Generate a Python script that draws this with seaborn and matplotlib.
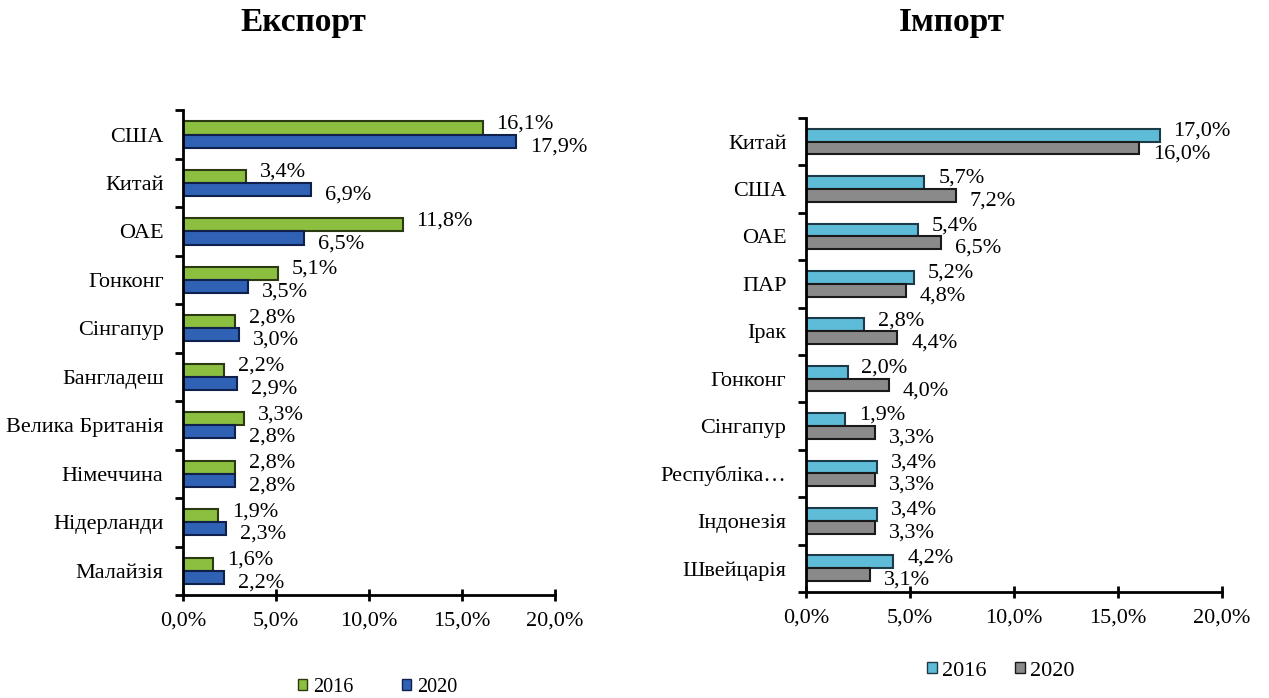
import matplotlib.pyplot as plt
import seaborn as sns
import pandas as pd
from matplotlib.patches import Patch

# Експорт
exp_countries = ['США', 'Китай', 'ОАЕ', 'Гонконг', 'Сінгапур', 'Бангладеш',
                 'Велика Британія', 'Німеччина', 'Нідерланди', 'Малайзія']
exp_2016 = [16.1, 3.4, 11.8, 5.1, 2.8, 2.2, 3.3, 2.8, 1.9, 1.6]
exp_2020 = [17.9, 6.9, 6.5, 3.5, 3.0, 2.9, 2.8, 2.8, 2.3, 2.2]

# Імпорт
imp_countries = ['Китай', 'США', 'ОАЕ', 'ПАР', 'Ірак', 'Гонконг', 'Сінгапур',
                 'Республіка…', 'Індонезія', 'Швейцарія']
imp_2016 = [17.0, 5.7, 5.4, 5.2, 2.8, 2.0, 1.9, 3.4, 3.4, 4.2]
imp_2020 = [16.0, 7.2, 6.5, 4.8, 4.4, 4.0, 3.3, 3.3, 3.3, 3.1]

years = ['2016', '2020']
x_ticks = [0, 5, 10, 15, 20]

sns.set_style('white')
plt.rcParams['font.family'] = ['Liberation Serif', 'DejaVu Serif']
for k in ['text.color', 'xtick.color', 'ytick.color', 'axes.labelcolor']:
    plt.rcParams[k] = 'black'

FS = 16


def pct(v):
    return f'{v:.1f}'.replace('.', ',') + '%'


def make_df(countries, a, b):
    return pd.DataFrame({
        'country': countries * 2,
        'year': [years[0]] * len(countries) + [years[1]] * len(countries),
        'value': a + b,
    })


def draw_panel(ax, df, colors, edges):
    sns.barplot(data=df, y='country', x='value', hue='year', orient='h',
                palette=colors, width=0.54, ax=ax, legend=False,
                linewidth=1.5, saturation=1)
    for cont, ec, dy in zip(ax.containers, edges, [3, -4]):
        for bar in cont:
            bar.set_edgecolor(ec)
            w = bar.get_width()
            yc = bar.get_y() + bar.get_height() / 2
            ax.annotate(pct(w), (w, yc), xytext=(10, dy), textcoords='offset points',
                        ha='left', va='center', fontsize=FS)
    n = len(df) // 2
    ax.set_xlim(0, 20)
    ax.set_ylim(n - 0.5, -0.5)
    ax.set_xticks(x_ticks)
    ax.set_xticklabels([pct(t) for t in x_ticks], fontsize=FS)
    ax.set_yticks([i - 0.5 for i in range(n + 1)], minor=True)
    ax.tick_params(axis='y', which='major', length=0, labelsize=FS, pad=14)
    ax.tick_params(axis='y', which='minor', length=6, width=2, direction='out', left=True)
    ax.tick_params(axis='x', which='major', length=8, width=2, direction='inout',
                   bottom=True, pad=8)
    ax.set_xlabel('')
    ax.set_ylabel('')
    sns.despine(ax=ax)
    for s in ['left', 'bottom']:
        ax.spines[s].set_linewidth(2)
        ax.spines[s].set_color('black')


fig = plt.figure(figsize=(12.69, 6.98), dpi=100)
ax1 = fig.add_axes([0.1442, 0.1476, 0.2932, 0.6944])
ax2 = fig.add_axes([0.6351, 0.1519, 0.3278, 0.6791])

exp_colors = ['#8cbf3f', '#2f62b5']
exp_edges = ['#2b3a12', '#10204a']
imp_colors = ['#5fbcd8', '#8a8a8a']
imp_edges = ['#1c3b47', '#1a1a1a']

draw_panel(ax1, make_df(exp_countries, exp_2016, exp_2020), exp_colors, exp_edges)
draw_panel(ax2, make_df(imp_countries, imp_2016, imp_2020), imp_colors, imp_edges)

fig.text(303 / 1269, 1 - 22 / 698, 'Експорт', ha='center', va='center',
         fontsize=24, fontweight='bold')
fig.text(952 / 1269, 1 - 22 / 698, 'Імпорт', ha='center', va='center',
         fontsize=24, fontweight='bold')

h1 = [Patch(facecolor=c, edgecolor=e) for c, e in zip(exp_colors, exp_edges)]
h2 = [Patch(facecolor=c, edgecolor=e) for c, e in zip(imp_colors, imp_edges)]
fig.legend(h1, years, loc='center', bbox_to_anchor=(378 / 1269, 1 - 687 / 698), ncol=2,
           frameon=False, fontsize=14.5, handlelength=0.45, handleheight=0.45,
           handletextpad=0.3, columnspacing=2.4)
fig.legend(h2, years, loc='center', bbox_to_anchor=(1001 / 1269, 1 - 671 / 698), ncol=2,
           frameon=False, fontsize=FS, handlelength=0.42, handleheight=0.42,
           handletextpad=0.25, columnspacing=1.3)

fig.savefig('out.png', dpi=100)
